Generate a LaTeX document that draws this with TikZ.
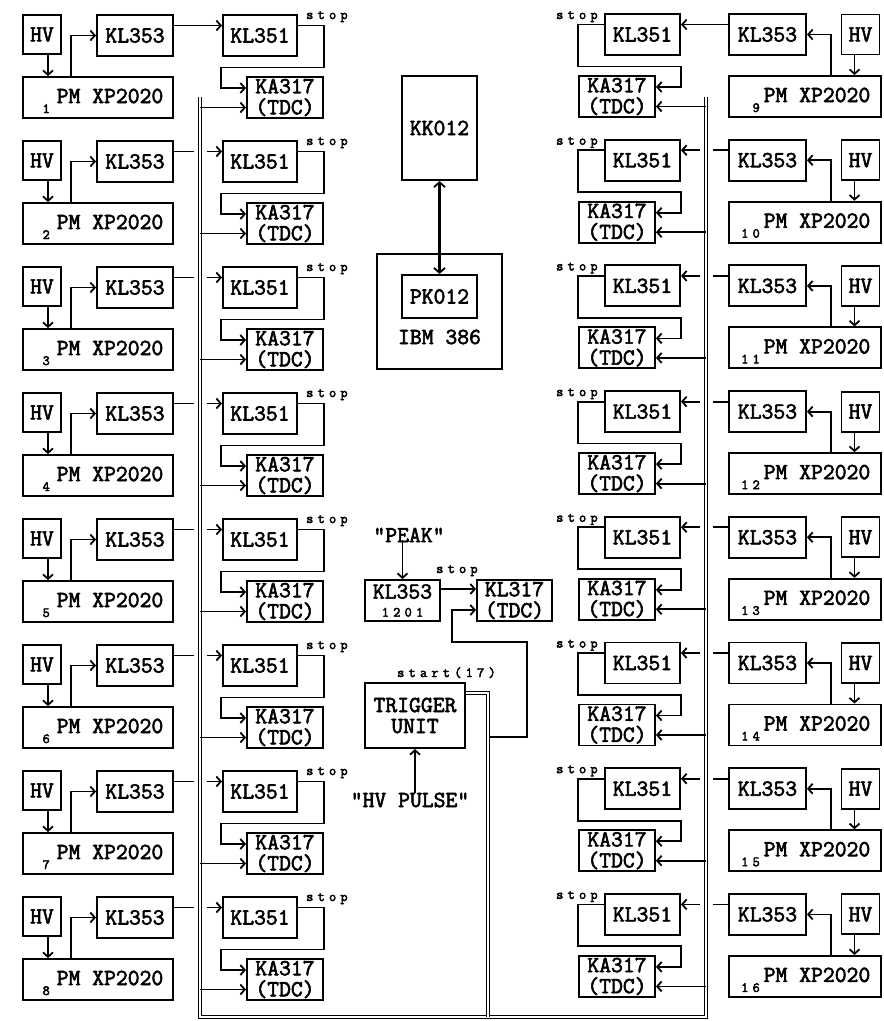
\documentclass[tikz,border=0pt]{standalone}
\usepackage{fontspec}
\usetikzlibrary{arrows.meta,calc}
\newfontfamily\bxfam[FakeBold=2.5]{Latin Modern Mono}
\newfontfamily\spfam[LetterSpace=30,FakeBold=3]{Latin Modern Mono}
\newcommand\bxf{\bxfam\fontsize{23}{21}\selectfont}
\newcommand\stf{\spfam\fontsize{14}{14}\selectfont}
\newcommand\nmf{\spfam\fontsize{14}{14}\selectfont}
\tikzset{
 box/.style={draw, line width=1.9pt, inner sep=0pt, align=center, font=\bxf},
 ln/.style={line width=1.8pt},
 arr/.style={line width=1.8pt, -{Straight Barb[length=4.5pt,width=10pt]}},
 dbl/.style={double, line width=1.3pt, double distance=2pt},
 stoplbl/.style={font=\stf, inner sep=0pt},
 num/.style={font=\nmf, inner sep=0pt},
 txt/.style={font=\bxf, inner sep=0pt, align=center},
}
\begin{document}
\begin{tikzpicture}[x=1pt,y=-1pt]
\fill[white] (0,0) rectangle (884,1021);
\useasboundingbox (0,0) rectangle (884,1021);
% ---------------- left channels
\foreach \k in {1,...,8}{
 \pgfmathsetmacro\o{(\k-1)*126}
 \node[box, minimum width=38pt, minimum height=39pt] (hvL\k) at (42,34.5+\o) {HV};
 \node[box, minimum width=76pt, minimum height=41pt] (klaL\k) at (135,35.5+\o) {KL353};
 \node[box, minimum width=74pt, minimum height=41pt] (klbL\k) at (260,35.5+\o) {KL351};
 \node[box, minimum width=150pt, minimum height=41pt] (pmL\k) at (98,97.5+\o) {};
 \node[box, minimum width=76pt, minimum height=41pt] (kaL\k) at (285,97.5+\o) {KA317\\(TDC)};
 \node[txt] (pmtL\k) at (110,96+\o) {PM XP2020};
 \node[num, anchor=base east] (nL\k) at (50,113+\o) {\k};
 \node[stoplbl, anchor=base west] (sL\k) at (306,19+\o) {stop};
 \draw[arr] ([xshift=6pt]hvL\k.south) -- ([xshift=6pt]hvL\k.south |- pmL\k.north);
 \draw[arr] ([xshift=49pt]pmL\k.north west) |- (klaL\k.west);
 \draw[arr] ([yshift=10pt]klaL\k.east) -- ([yshift=10pt]klbL\k.west);
 \draw[arr] ([yshift=10pt]klbL\k.east) -| ([xshift=26pt,yshift=-10.5pt]klbL\k.south east)
   -| ([xshift=-25pt,yshift=9.5pt]kaL\k.west) -- ([yshift=9.5pt]kaL\k.west);
}
% ---------------- right channels
\foreach \k in {9,...,16}{
 \pgfmathsetmacro\o{(\k-9)*125.7}
 \node[box, minimum width=38pt, minimum height=40pt] (hvR\k) at (860.5,34.5+\o) {HV};
 \node[box, minimum width=77pt, minimum height=41pt] (klaR\k) at (767.5,34.5+\o) {KL353};
 \node[box, minimum width=75pt, minimum height=41pt] (klbR\k) at (642.5,34.5+\o) {KL351};
 \node[box, minimum width=152pt, minimum height=41pt] (pmR\k) at (805,96.5+\o) {};
 \node[box, minimum width=76pt, minimum height=41pt] (kaR\k) at (617,96.5+\o) {KA317\\(TDC)};
 \node[txt] (pmtR\k) at (817,95+\o) {PM XP2020};
 \node[num, anchor=base east] (nR\k) at (760,112+\o) {\k};
 \node[stoplbl, anchor=base west] (sR\k) at (556,19+\o) {stop};
 \draw[arr] ([xshift=-6pt]hvR\k.south) -- ([xshift=-6pt]hvR\k.south |- pmR\k.north);
 \draw[arr] ([xshift=-51pt]pmR\k.north east) |- (klaR\k.east);
 \draw[arr] ([yshift=10pt]klaR\k.west) -- ([yshift=10pt]klbR\k.east);
 \draw[arr] ([yshift=10pt]klbR\k.west) -| ([xshift=-26pt,yshift=-10.5pt]klbR\k.south west)
   -| ([xshift=25pt,yshift=9.5pt]kaR\k.east) -- ([yshift=9.5pt]kaR\k.east);
}
% ---------------- buses
\coordinate (bLt) at (200,97);
\coordinate (bLb) at (200,1017);
\coordinate (bRb) at (706,1017);
\coordinate (bRt) at (706,97);
\draw[white, line width=13pt] (bLt) -- (bLb);
\draw[white, line width=13pt] (bRt) -- (bRb);
\draw[dbl] (bLt) -- (bLb) -- (bRb) -- (bRt);
\foreach \k in {1,...,8}{
 \pgfmathsetmacro\o{(\k-1)*126}
 \coordinate (tL\k) at (200,107.5+\o);
 \draw[arr] (tL\k) -- (tL\k -| kaL\k.west);
}
\foreach \k in {9,...,16}{
 \pgfmathsetmacro\o{(\k-9)*125.7}
 \coordinate (tR\k) at (706,106.5+\o);
 \draw[arr] (tR\k) -- (tR\k -| kaR\k.east);
}
% ---------------- computer
\node[box, minimum width=75pt, minimum height=104pt] (kk) at (439.5,128) {KK012};
\node[box, minimum width=125pt, minimum height=115pt] (ibm) at (439.5,311.5) {};
\node[box, minimum width=75pt, minimum height=43pt] (pk) at (439.5,296.5) {PK012};
\node[txt] (ibmt) at (439.5,337) {IBM 386};
\draw[line width=3pt, {Straight Barb[length=5pt,width=11pt,line width=1.8pt]}-{Straight Barb[length=5pt,width=11pt,line width=1.8pt]}] (kk.south) -- (pk.north);
% ---------------- trigger part
\node[txt] (peak) at (409,535) {"PEAK"};
\node[box, minimum width=75pt, minimum height=41pt] (klc) at (402.5,600.5) {KL353\\[-3pt]{\nmf 1201}};
\node[box, minimum width=75pt, minimum height=41pt] (klt) at (514.5,600.5) {KL317\\(TDC)};
\node[stoplbl, anchor=base west] (sC) at (436,573) {stop};
\node[box, minimum width=100pt, minimum height=65pt] (trig) at (415,715.5) {TRIGGER\\UNIT};
\node[stoplbl, anchor=base west] (startl) at (397,677) {start(17)};
\node[txt] (hvp) at (410,800) {"HV PULSE"};
\draw[arr] (peak.south -| klc.north) ++(0,-2) -- (klc.north);
\draw[arr] (hvp.north -| trig.south) -- (trig.south);
\draw[arr] ([yshift=11.5pt]klc.east) -- ([yshift=11.5pt]klt.west);
\coordinate (tj) at (488,693);
\coordinate (tjb) at (488,1017);
\draw[dbl] (trig.east |- tj) -- (tj) -- (tjb);
\coordinate (trg) at (490,737);
\coordinate (r1) at (527,642);
\draw[arr] (trg) -| (r1) -| ([xshift=-24pt,yshift=-9.5pt]klt.west) -- ([yshift=-9.5pt]klt.west);
\end{tikzpicture}
\end{document}
